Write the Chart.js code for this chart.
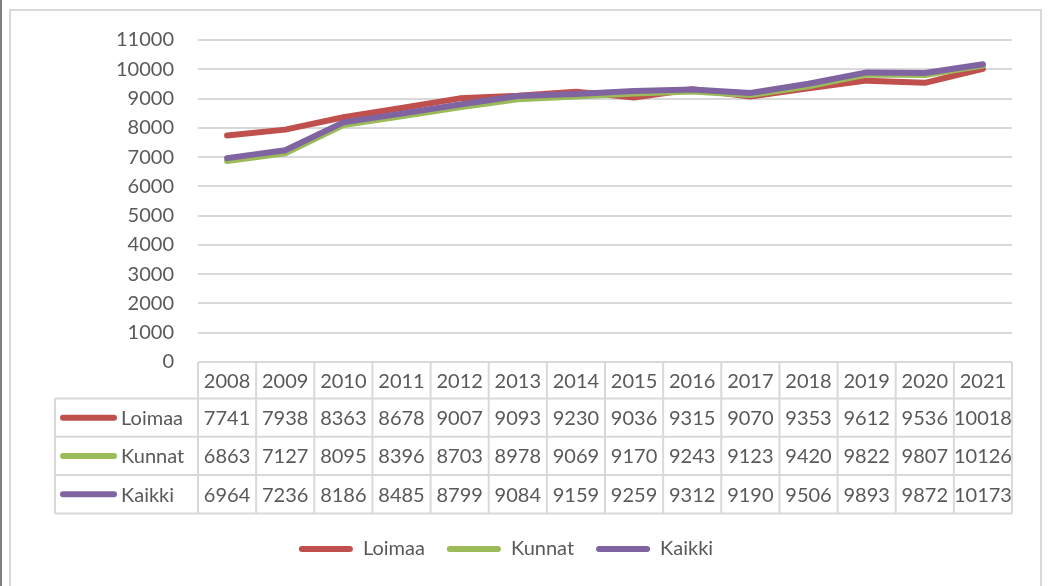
<!DOCTYPE html>
<html>
<head>
<meta charset="utf-8">
<script src="https://cdn.jsdelivr.net/npm/chart.js@4/dist/chart.umd.min.js"></script>
<style>
  html, body { margin: 0; padding: 0; background: #fff; }
  #wrap { position: relative; width: 1049px; height: 586px; overflow: hidden; }
  #edge { position: absolute; left: 0; top: 0; width: 2px; height: 586px; background: #7f7f7f; }
  #frame { position: absolute; left: 9px; top: 9px; width: 1029px; height: 600px;
           border: 2px solid #d9d9d9; border-bottom: none; }
  canvas { position: absolute; left: 0; top: 0; }
</style>
</head>
<body>
<div id="wrap">
  <div id="edge"></div>
  <div id="frame"></div>
  <canvas id="c" width="1049" height="586"></canvas>
</div>
<script>
// Years shown along the category axis and in the table header
const years = ['2008', '2009', '2010', '2011', '2012', '2013', '2014',
               '2015', '2016', '2017', '2018', '2019', '2020', '2021'];

// Series values
const loimaa = [7741, 7938, 8363, 8678, 9007, 9093, 9230, 9036, 9315, 9070, 9353, 9612, 9536, 10018];
const kunnat = [6863, 7127, 8095, 8396, 8703, 8978, 9069, 9170, 9243, 9123, 9420, 9822, 9807, 10126];
const kaikki = [6964, 7236, 8186, 8485, 8799, 9084, 9159, 9259, 9312, 9190, 9506, 9893, 9872, 10173];

const seriesNames = ['Loimaa', 'Kunnat', 'Kaikki'];
const seriesValues = [loimaa, kunnat, kaikki];
const seriesColors = ['#c0504d', '#9bbb59', '#8064a2'];

// Value axis range
const yMin = 0, yMax = 11000, yStep = 1000;

const FONT = 'Lato, "Open Sans", sans-serif';
const TEXT = '#595959';
const RULE = '#d9d9d9';

// Data table drawn under the plot, aligned to the category scale columns
const dataTable = {
  id: 'dataTable',
  afterDraw(chart) {
    const x = chart.scales.x;
    const ctx = chart.ctx;
    const n = years.length;
    const colW = (x.right - x.left) / n;
    const top = x.top;
    const headH = 36.5, rowH = 38.3;
    const rowsTop = top + headH;
    const bottom = rowsTop + rowH * seriesValues.length;
    const labelLeft = 55;

    ctx.save();
    ctx.strokeStyle = RULE;
    ctx.lineWidth = 2;
    ctx.beginPath();
    ctx.moveTo(x.left, top); ctx.lineTo(x.right, top);
    for (let r = 0; r <= seriesValues.length; r++) {
      const yy = rowsTop + r * rowH;
      ctx.moveTo(labelLeft, yy); ctx.lineTo(x.right, yy);
    }
    for (let i = 0; i <= n; i++) {
      const xx = x.left + i * colW;
      ctx.moveTo(xx, top); ctx.lineTo(xx, bottom);
    }
    ctx.moveTo(labelLeft, rowsTop); ctx.lineTo(labelLeft, bottom);
    ctx.stroke();

    ctx.fillStyle = TEXT;
    ctx.font = '20px ' + FONT;
    ctx.textBaseline = 'middle';
    ctx.textAlign = 'center';
    years.forEach((yr, i) => {
      ctx.fillText(yr, x.getPixelForValue(i), top + headH / 2 + 1);
    });

    seriesValues.forEach((vals, r) => {
      const cy = rowsTop + r * rowH + rowH / 2 + 1;
      // legend key
      ctx.strokeStyle = seriesColors[r];
      ctx.lineWidth = 6;
      ctx.lineCap = 'round';
      ctx.beginPath();
      ctx.moveTo(63, cy - 1); ctx.lineTo(114, cy - 1);
      ctx.stroke();
      ctx.fillStyle = TEXT;
      ctx.textAlign = 'left';
      ctx.fillText(seriesNames[r], 121, cy);
      ctx.textAlign = 'center';
      vals.forEach((v, i) => {
        ctx.fillText(String(v), x.getPixelForValue(i), cy);
      });
    });
    ctx.restore();
  }
};

new Chart(document.getElementById('c'), {
  type: 'line',
  data: {
    labels: years,
    datasets: seriesNames.map((name, i) => ({
      label: name,
      data: seriesValues[i],
      borderColor: seriesColors[i],
      backgroundColor: seriesColors[i],
      borderWidth: 6,
      pointRadius: 0,
      borderJoinStyle: 'round',
      borderCapStyle: 'round',
      tension: 0,
      order: seriesNames.length - i
    }))
  },
  options: {
    responsive: false,
    animation: false,
    devicePixelRatio: 1,
    layout: { padding: { top: 40, right: 37, left: 0, bottom: 17 } },
    plugins: {
      tooltip: { enabled: false },
      legend: {
        position: 'bottom',
        labels: {
          boxWidth: 54,
          boxHeight: 6,
          padding: 22,
          color: TEXT,
          font: { family: FONT, size: 20 },
          generateLabels() {
            return seriesNames.map((name, i) => ({
              text: name,
              fillStyle: seriesColors[i],
              strokeStyle: seriesColors[i],
              lineWidth: 0,
              borderRadius: 3,
              fontColor: TEXT,
              hidden: false,
              datasetIndex: i
            }));
          },
          useBorderRadius: true,
          borderRadius: 3
        }
      }
    },
    scales: {
      x: {
        offset: true,
        grid: { display: false },
        border: { display: false },
        ticks: { display: false },
        afterFit(scale) { scale.height = 155; }
      },
      y: {
        min: yMin,
        max: yMax,
        grid: { color: RULE, lineWidth: 2, drawTicks: false },
        border: { display: false },
        ticks: {
          stepSize: yStep,
          padding: 24,
          color: TEXT,
          font: { family: FONT, size: 20 },
          callback: (v) => String(v)
        },
        afterFit(scale) { scale.width = 198; }
      }
    }
  },
  plugins: [dataTable]
});
</script>
</body>
</html>
